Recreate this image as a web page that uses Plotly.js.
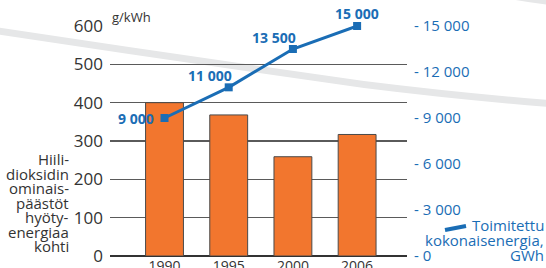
<!DOCTYPE html>
<html>
<head>
<meta charset="utf-8">
<script src="https://cdn.plot.ly/plotly-3.0.1.min.js"></script>
<style>html,body{margin:0;padding:0;background:#fff;}#chart{width:546px;height:268px;}</style>
</head>
<body>
<div id="chart"></div>
<script>
const years = ['1990', '1995', '2000', '2006'];
const co2PerKwh = [400, 368, 259, 317];
const deliveredEnergy = [9000, 11000, 13500, 15000];
const leftTicks = [0, 100, 200, 300, 400, 500, 600];
const rightTicks = [0, 3000, 6000, 9000, 12000, 15000];
const yTitleLines = ['Hiili-', 'dioksidin', 'ominais-', 'päästöt', 'hyöty-', 'energiaa', 'kohti'];
const legendLines = ['Toimitettu', 'kokonaisenergia,', 'GWh'];
const unitLabel = 'g/kWh';

const BLUE = '#1a6db5';
const ORANGE = '#f2762e';
const FONT = 'Open Sans, Noto Sans, sans-serif';

function fmt(v) { return String(v).replace(/\B(?=(\d{3})+(?!\d))/g, ' '); }

// plot area in pixels: x 110..407, y 26..256
const L = 110, R = 407, T = 26, B = 256;
const px = x => (x - L) / (R - L);
const py = y => (B - y) / (B - T);

const labelOffsets = [[-29, 0], [-19, 12], [-19, 12], [0, 13]];

const bars = {
  type: 'bar', x: years, y: co2PerKwh, width: 0.59,
  marker: {color: ORANGE, line: {color: '#4a4a4a', width: 1}},
  hoverinfo: 'skip', showlegend: false
};
const line = {
  type: 'scatter', mode: 'lines+markers', x: years, y: deliveredEnergy, yaxis: 'y2',
  line: {color: BLUE, width: 3}, marker: {symbol: 'square', size: 8, color: BLUE},
  hoverinfo: 'skip', showlegend: false, cliponaxis: false
};

const annotations = deliveredEnergy.map((v, i) => ({
  x: i, y: v, xref: 'x', yref: 'y2', text: '<b>' + fmt(v) + '</b>',
  showarrow: false, xshift: labelOffsets[i][0], yshift: labelOffsets[i][1],
  xanchor: 'center', yanchor: 'middle',
  font: {family: FONT, size: 14, color: BLUE}
}));
annotations.push({
  xref: 'paper', yref: 'y', x: 0, y: 600, xanchor: 'left', yanchor: 'bottom',
  text: unitLabel, showarrow: false, yshift: -2, font: {family: FONT, size: 13, color: '#333'}
});
yTitleLines.forEach((t, i) => annotations.push({
  xref: 'paper', yref: 'paper', x: px(71), y: py(159 + i * 14.5), xanchor: 'right', yanchor: 'middle',
  text: t, showarrow: false, font: {family: FONT, size: 15, color: '#333'}
}));
legendLines.forEach((t, i) => annotations.push({
  xref: 'paper', yref: 'paper', x: px(546), y: py(225 + i * 15), xanchor: 'right', yanchor: 'middle',
  text: t, showarrow: false, font: {family: FONT, size: 15, color: BLUE}
}));

const shapes = [
  {type: 'path', xref: 'paper', yref: 'paper', layer: 'below',
   path: `M ${px(-5)} ${py(27)} Q ${px(180)} ${py(55)} ${px(364)} ${py(81)} Q ${px(460)} ${py(93)} ${px(550)} ${py(100)} L ${px(550)} ${py(107)} Q ${px(460)} ${py(100)} ${px(364)} ${py(88)} Q ${px(180)} ${py(62)} ${px(-5)} ${py(34)} Z`,
   fillcolor: '#e6e7e8', line: {width: 0}},
  {type: 'path', xref: 'paper', yref: 'paper', layer: 'below',
   path: `M ${px(505)} ${py(-2)} Q ${px(525)} ${py(2)} ${px(550)} ${py(5)} L ${px(550)} ${py(-2)} Z`,
   fillcolor: '#e6e7e8', line: {width: 0}},
  {type: 'line', xref: 'paper', yref: 'paper', x0: px(445), y0: py(230), x1: px(466), y1: py(226),
   line: {color: BLUE, width: 4}}
];

const layout = {
  width: 546, height: 268,
  margin: {l: L, r: 546 - R, t: T, b: 268 - B},
  paper_bgcolor: '#fff', plot_bgcolor: 'rgba(0,0,0,0)',
  showlegend: false,
  xaxis: {
    type: 'category', range: [-0.849, 3.777], showgrid: false, zeroline: false,
    showline: false, ticks: '', ticklabelstandoff: 0,
    tickfont: {family: FONT, size: 14, color: '#333'}, fixedrange: true
  },
  yaxis: {
    range: [0, 600], tickvals: leftTicks, showgrid: true, gridcolor: '#5a5a5a', gridwidth: 1.3,
    zeroline: true, zerolinecolor: '#333', zerolinewidth: 1.5, showline: false, ticks: '',
    ticklabelstandoff: 6, tickfont: {family: FONT, size: 17, color: '#333'}, fixedrange: true
  },
  yaxis2: {
    range: [0, 15000], overlaying: 'y', side: 'right', tickvals: rightTicks,
    ticktext: rightTicks.map(v => '- ' + fmt(v)), showgrid: false, zeroline: false,
    showline: false, ticks: '', ticklabelstandoff: 6,
    tickfont: {family: FONT, size: 15, color: BLUE}, fixedrange: true
  },
  annotations: annotations,
  shapes: shapes
};

Plotly.newPlot('chart', [bars, line], layout, {staticPlot: true, displayModeBar: false});
</script>
</body>
</html>
